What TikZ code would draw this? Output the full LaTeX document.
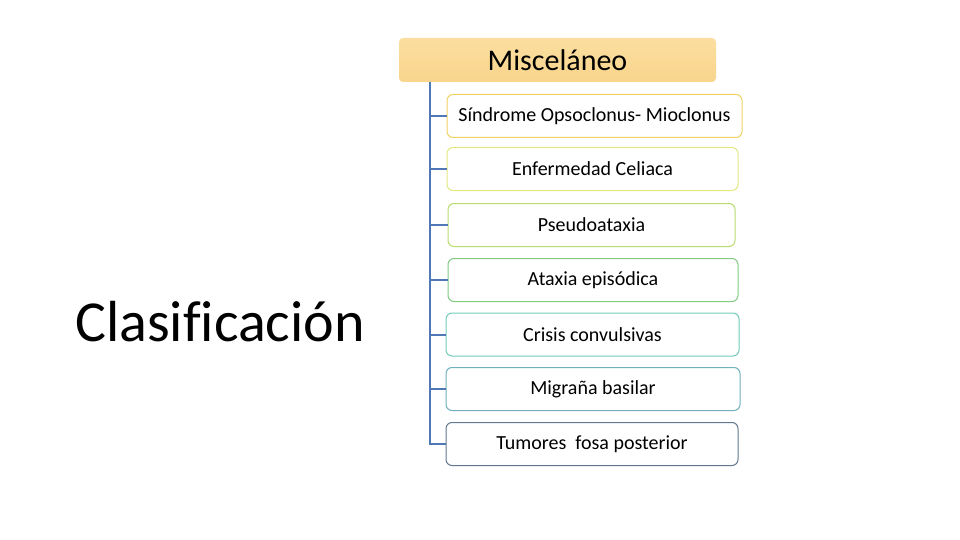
\documentclass[tikz,border=0pt]{standalone}
\usepackage{fontspec}
\setmainfont{Carlito}
\newfontfamily\titlefont[Ligatures=NoCommon]{Carlito}
\usepackage{xcolor}
\definecolor{linkblue}{RGB}{79,120,180}
\definecolor{headfill}{RGB}{249,213,140}
\definecolor{headtop}{RGB}{251,222,160}
\definecolor{bdone}{RGB}{240,210,100}
\definecolor{bdtwo}{RGB}{228,232,128}
\definecolor{bdthree}{RGB}{184,220,112}
\definecolor{bdfour}{RGB}{128,204,128}
\definecolor{bdfive}{RGB}{112,204,184}
\definecolor{bdsix}{RGB}{112,176,192}
\definecolor{bdseven}{RGB}{96,120,144}

\begin{document}
\begin{tikzpicture}[
    x=1pt,y=-1pt,
    header/.style={rectangle,rounded corners=4pt,top color=headtop,bottom color=headfill,
      draw=none,minimum width=317pt,minimum height=44pt,inner sep=0pt,
      font=\fontsize{30}{34}\selectfont},
    item/.style={rectangle,rounded corners=6pt,fill=white,line width=1pt,
      minimum width=293pt,minimum height=43pt,inner sep=0pt,
      font=\fontsize{20}{24}\selectfont},
    title/.style={font=\titlefont\fontsize{58}{64}\selectfont,inner sep=0pt},
    link/.style={draw=linkblue,line width=2pt}
  ]
    \useasboundingbox (0,0) rectangle (960,540);

    \node[title] (clasif) at (220,322) {Clasificación};
    \node[header] (misc) at (557.5,60) {Misceláneo};

    \node[item,draw=bdone,minimum width=295pt] (sindrome) at (594.5,116) {Síndrome Opsoclonus- Mioclonus};
    \node[item,draw=bdtwo,minimum width=291pt] (celiaca) at (592.5,169) {Enfermedad Celiaca};
    \node[item,draw=bdthree,minimum width=287pt] (pseudo) at (591.5,225) {Pseudoataxia};
    \node[item,draw=bdfour,minimum width=290pt] (ataxia) at (593,280) {Ataxia episódica};
    \node[item,draw=bdfive] (crisis) at (592.5,334.5) {Crisis convulsivas};
    \node[item,draw=bdsix,minimum width=294pt] (migrana) at (593,389) {Migraña basilar};
    \node[item,draw=bdseven,minimum width=292pt] (tumores) at (592,444) {Tumores\ \ fosa posterior};

    \coordinate (trunk) at (430,82);
    \foreach \n in {sindrome,celiaca,pseudo,ataxia,crisis,migrana,tumores}
      \draw[link] (trunk) |- (\n.west);
  \end{tikzpicture}
\end{document}
